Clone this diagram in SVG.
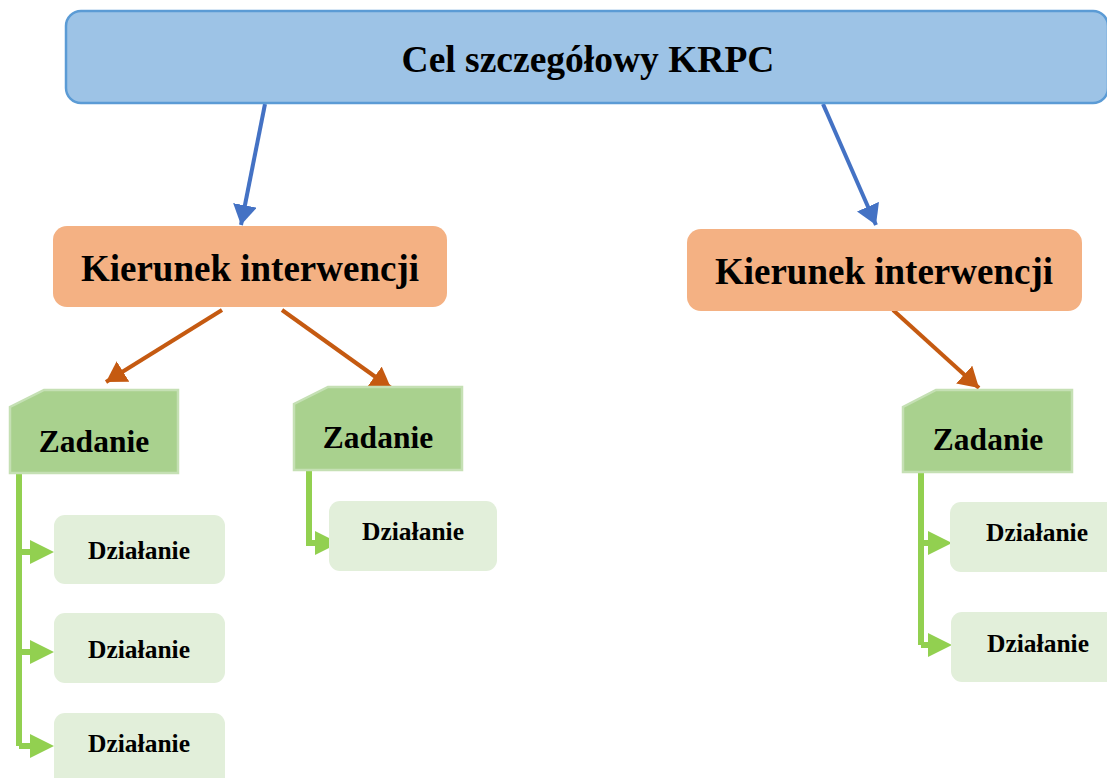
<svg xmlns="http://www.w3.org/2000/svg" width="1107" height="778" viewBox="0 0 1107 778">
<style>
.t{font-family:"Liberation Serif","Times New Roman",serif;font-weight:bold;fill:#000;text-anchor:middle}
.kier{fill:#F4B183}
.zad{fill:#A9D18E;stroke:#C5E0B4;stroke-width:2.5}
.dz{fill:#E2EFDA}
.blue{stroke:#4472C4;stroke-width:4;fill:none}
.orange{stroke:#C55A11;stroke-width:4;fill:none}
.green{stroke:#92D050;stroke-width:6;fill:none}
.gh{fill:#92D050}
</style>
<defs>
<marker id="ab" markerWidth="6" markerHeight="6" refX="5" refY="3" orient="auto" markerUnits="strokeWidth"><path d="M0,0 L5,3 L0,6 Z" fill="#4472C4"/></marker>
<marker id="ao" markerWidth="6" markerHeight="6" refX="5" refY="3" orient="auto" markerUnits="strokeWidth"><path d="M0,0 L5,3 L0,6 Z" fill="#C55A11"/></marker>
</defs>
<rect width="1107" height="778" fill="#fff"/>
<g id="connectors">
<line class="blue" x1="265" y1="104" x2="241" y2="225" marker-end="url(#ab)"/>
<line class="blue" x1="823" y1="104" x2="876" y2="225" marker-end="url(#ab)"/>
<line class="orange" x1="222" y1="310" x2="106" y2="382" marker-end="url(#ao)"/>
<line class="orange" x1="282" y1="310" x2="391" y2="388" marker-end="url(#ao)"/>
<line class="orange" x1="893" y1="310" x2="979" y2="388" marker-end="url(#ao)"/>
<path class="green" d="M19,473 V746 M19,552 H32 M19,652 H32 M19,746 H32"/>
<path class="gh" d="M30,540 L54,552 L30,564 Z M30,640 L54,652 L30,664 Z M30,734 L54,746 L30,758 Z"/>
<path class="green" d="M309,470 V543 H318"/>
<path class="gh" d="M315,531 L339,543 L315,555 Z"/>
<path class="green" d="M921,473 V645 M921,543 H932 M921,645 H932"/>
<path class="gh" d="M928,531 L952,543 L928,555 Z M928,633 L952,645 L928,657 Z"/>
</g>
<g id="cel">
<rect x="66" y="11" width="1042" height="92" rx="15" fill="#9DC3E6" stroke="#5B9BD5" stroke-width="2.5"/>
<text class="t" x="588" y="72" font-size="37.5">Cel szczegółowy KRPC</text>
</g>
<g id="kierunek1">
<rect class="kier" x="53" y="226" width="394" height="81" rx="14"/>
<text class="t" x="250" y="281" font-size="37">Kierunek interwencji</text>
</g>
<g id="kierunek2">
<rect class="kier" x="687" y="229" width="395" height="82" rx="14"/>
<text class="t" x="884" y="284" font-size="37">Kierunek interwencji</text>
</g>
<g id="zadanie1">
<path class="zad" d="M44,390 H178 V473 H10 V407 Z"/>
<text class="t" x="94" y="452" font-size="31.5">Zadanie</text>
</g>
<g id="zadanie2">
<path class="zad" d="M328,387 H462 V470 H294 V404 Z"/>
<text class="t" x="378" y="448" font-size="31.5">Zadanie</text>
</g>
<g id="zadanie3">
<path class="zad" d="M936,390 H1072 V472 H903 V407 Z"/>
<text class="t" x="988" y="450" font-size="31.5">Zadanie</text>
</g>
<g id="dzialanie1">
<rect class="dz" x="54" y="515" width="171" height="69" rx="11"/>
<text class="t" x="139" y="559" font-size="25.5">Działanie</text>
</g>
<g id="dzialanie2">
<rect class="dz" x="54" y="613" width="171" height="70" rx="11"/>
<text class="t" x="139" y="658" font-size="25.5">Działanie</text>
</g>
<g id="dzialanie3">
<rect class="dz" x="54" y="713" width="171" height="80" rx="11"/>
<text class="t" x="139" y="752" font-size="25.5">Działanie</text>
</g>
<g id="dzialanie4">
<rect class="dz" x="329" y="501" width="168" height="70" rx="11"/>
<text class="t" x="413" y="540" font-size="25.5">Działanie</text>
</g>
<g id="dzialanie5">
<rect class="dz" x="950" y="502" width="170" height="70" rx="11"/>
<text class="t" x="1037" y="541" font-size="25.5">Działanie</text>
</g>
<g id="dzialanie6">
<rect class="dz" x="951" y="612" width="170" height="70" rx="11"/>
<text class="t" x="1038" y="652" font-size="25.5">Działanie</text>
</g>
</svg>
